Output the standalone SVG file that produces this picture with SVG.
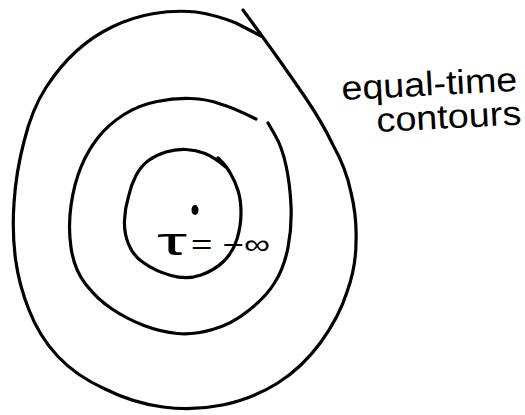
<svg xmlns="http://www.w3.org/2000/svg" width="525" height="415" viewBox="0 0 525 415">
<style>
.c{fill:none;stroke:#000;stroke-width:3.2;stroke-linecap:round;stroke-linejoin:round}
.h{font-family:"Liberation Sans","DejaVu Sans",sans-serif;fill:#000}
</style>
<rect width="525" height="415" fill="#fff"/>
<g id="outer-contour">
<path class="c" d="M243,10 Q262,36 276,55.5 Q290,75 306,98.5 Q322,122 333,145 Q346,168 351,192.5 Q357,217 356,242 Q356,267 347,292 Q339,317 321,342 Q302,368 277,383.5 Q252,399 222.5,405 Q193,411 163,407 Q133,403 105,389 Q76,376 57.5,356 Q39,336 29,310 Q19,285 15.5,259 Q12,233 14,203 Q16,172 24,141.5 Q32,109 46,87.5 Q60,66 76.5,51 Q93,36 113,26.5 Q133,17 154,13.5 Q175,10 196,12 Q216,15 236,23 L261,36"/>
</g>
<g id="middle-contour">
<path class="c" d="M256,119 Q234,108 220.5,104 Q207,99 190.5,98.5 Q174,98 157,101.5 Q139,105 124,114.5 Q109,124 98.5,137 Q88,150 81,167 Q74,184 71,205.5 Q68,227 71,247.5 Q74,269 85.5,284 Q97,299 112,309 Q127,319 144,325.5 Q161,332 177.5,333.5 Q194,335 212.5,329.5 Q232,324 248,311 Q265,298 274.5,283 Q284,268 288,247.5 Q292,227 291,205.5 Q290,184 286,165.5 Q282,147 275,135 L268,123"/>
</g>
<g id="inner-contour">
<path class="c" d="M227,168 Q214,157 205,153.5 Q196,150 186,149.5 Q176,149 166,152 Q156,155 148.5,160.5 Q141,166 136,175.5 Q131,185 128.5,196.5 Q125,208 124.5,220.5 Q124,233 128.5,244 Q133,256 144,263 Q155,271 171,275.5 Q187,280 201,275 Q215,270 224,261 Q233,252 237,239 Q241,226 241,213 Q241,200 238,190.5 Q235,181 230.5,173.5 Q226,166 222,162 L218,158"/>
</g>
<g id="source">
<ellipse cx="195" cy="210" rx="3.5" ry="5" fill="#000"/>
<text class="h" x="157" y="255" font-size="38" textLength="30" lengthAdjust="spacingAndGlyphs">τ</text>
<text class="h" x="191" y="254" font-size="28" textLength="79" lengthAdjust="spacingAndGlyphs">= −∞</text>
</g>
<g id="label">
<text class="h" x="342" y="100" font-size="34" textLength="176" lengthAdjust="spacingAndGlyphs" transform="rotate(-3 342 100)">equal-time</text>
<text class="h" x="377" y="132" font-size="34" textLength="145" lengthAdjust="spacingAndGlyphs" transform="rotate(-3 377 132)">contours</text>
</g>
</svg>
